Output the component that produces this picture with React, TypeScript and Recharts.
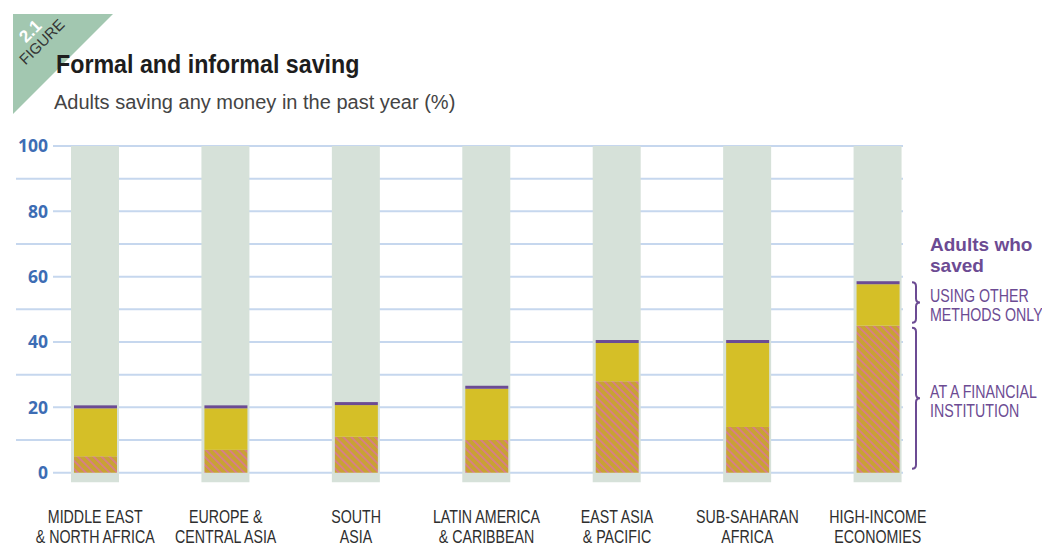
import React from "react";
import { BarChart, Bar, XAxis, YAxis, CartesianGrid } from "recharts";

const regions = [
  "MIDDLE EAST\n& NORTH AFRICA",
  "EUROPE &\nCENTRAL ASIA",
  "SOUTH\nASIA",
  "LATIN AMERICA\n& CARIBBEAN",
  "EAST ASIA\n& PACIFIC",
  "SUB-SAHARAN\nAFRICA",
  "HIGH-INCOME\nECONOMIES",
];
// % of adults saving at a financial institution
const formal = [5, 7, 11, 10, 28, 14, 45];
// % of adults saving any money (formal or other methods)
const anySaving = [20, 20, 21, 26, 40, 40, 58];
const yTicks = [0, 10, 20, 30, 40, 50, 60, 70, 80, 90, 100];

const W = 1042;
const H = 543;
const TOP = 146;
const BOTTOM = 482.5;
const DOMAIN: [number, number] = [-3, 100];

const SANS = "'Liberation Sans', Arial, sans-serif";
const SQUEEZE = 0.79; // no condensed face installed, so squeeze Liberation Sans
const PURPLE = "#6c4b93";
const YELLOW = "#d5bf27";
const GRAY = "#d6e1d9";
const GRID = "#c6d7ee";

const data = regions.map((r, i) => ({
  region: r,
  formal: formal[i],
  other: anySaving[i] - formal[i],
  bg: [DOMAIN[0], 100],
}));

// same linear mapping the chart uses, for the grid and the braces
const yOf = (v: number) => TOP + ((DOMAIN[1] - v) / (DOMAIN[1] - DOMAIN[0])) * (BOTTOM - TOP);
const vOf = (y: number) => DOMAIN[1] - ((y - TOP) / (BOTTOM - TOP)) * (DOMAIN[1] - DOMAIN[0]);

function Narrow({ x, y, children, anchor = "start", size = 18, fill = "#333", weight = 400, sx = SQUEEZE }: any) {
  return (
    <text
      transform={`translate(${x} ${y}) scale(${sx} 1)`}
      textAnchor={anchor}
      fill={fill}
      fontFamily={SANS}
      fontSize={size}
      fontWeight={weight}
    >
      {children}
    </text>
  );
}

function OtherShape(props: any) {
  const { x, y, width, height } = props;
  return (
    <g>
      <rect x={x} y={y + 1} width={width} height={Math.max(height - 1, 0)} fill={YELLOW} />
      <rect x={x} y={y - 2} width={width} height={3} fill={PURPLE} />
    </g>
  );
}

function RegionTick(props: any) {
  const { x, payload } = props;
  const lines = String(payload.value).split("\n");
  return (
    <g>
      {lines.map((l, i) => (
        <Narrow key={i} x={x} y={523 + i * 19.5} anchor="middle" fill="#2e2e2e">
          {l}
        </Narrow>
      ))}
    </g>
  );
}

function GridLine(p: any) {
  const v = Math.round(vOf(p.y1));
  if (v < 0 || v > 100) return <g key={p.key} />;
  return (
    <line key={p.key} x1={v % 20 === 0 ? 53 : 16} x2={903} y1={p.y1} y2={p.y2} stroke={GRID} strokeWidth={2} />
  );
}

function brace(x0: number, y1: number, y2: number) {
  const ym = (y1 + y2) / 2;
  const xm = x0 + 4;
  return `M ${x0} ${y1} Q ${xm} ${y1} ${xm} ${y1 + 4} L ${xm} ${ym - 4} Q ${xm} ${ym} ${x0 + 8} ${ym} Q ${xm} ${ym} ${xm} ${ym + 4} L ${xm} ${y2 - 4} Q ${xm} ${y2} ${x0} ${y2}`;
}

export default function App() {
  const hi = data.length - 1;
  return (
    <div style={{ position: "absolute", left: 0, top: 0, width: W, height: H, background: "#fff" }}>
      <BarChart width={W} height={H} data={data} margin={{ top: TOP, right: 99, left: 0, bottom: 0 }}>
        <defs>
          <pattern id="hatch" patternUnits="userSpaceOnUse" width={5.6} height={5.6} patternTransform="rotate(-45)">
            <rect width={5.6} height={5.6} fill="#c8a234" />
            <line x1={0.9} y1={0} x2={0.9} y2={5.6} stroke="#d97a90" strokeWidth={1.7} />
          </pattern>
        </defs>
        <CartesianGrid vertical={false} horizontal={GridLine} />
        <XAxis xAxisId="bg" dataKey="region" hide />
        <XAxis
          xAxisId="main"
          dataKey="region"
          axisLine={false}
          tickLine={false}
          tickSize={0}
          tickMargin={0}
          height={60.5}
          interval={0}
          tick={<RegionTick />}
        />
        <YAxis
          width={30}
          domain={DOMAIN}
          ticks={yTicks}
          allowDataOverflow
          axisLine={false}
          tickLine={false}
          tickSize={0}
          tickMargin={0}
          tickFormatter={(v: number) => (v % 20 === 0 ? String(v) : "")}
          tick={{ fill: "#3d6db4", fontSize: 17.5, fontWeight: 700, fontFamily: "'Open Sans', sans-serif", dx: 18 }}
        />
        <Bar xAxisId="bg" dataKey="bg" barSize={48} fill={GRAY} isAnimationActive={false} />
        <Bar xAxisId="main" dataKey="formal" stackId="s" barSize={43} fill="url(#hatch)" isAnimationActive={false} />
        <Bar xAxisId="main" dataKey="other" stackId="s" barSize={43} shape={<OtherShape />} isAnimationActive={false} />
      </BarChart>

      <svg width={W} height={H} style={{ position: "absolute", left: 0, top: 0, pointerEvents: "none" }}>
        <polygon points="13,14 113,14 13,114" fill="#a2c7b0" />
        <text x={30} y={37} transform="rotate(-45 30 31)" textAnchor="middle" fill="#fff" fontFamily={SANS} fontWeight={700} fontSize={17}>
          2.1
        </text>
        <text x={42} y={47} transform="rotate(-45 42 42)" textAnchor="middle" fill="#333" fontFamily={SANS} fontSize={15}>
          FIGURE
        </text>
        <Narrow x={56} y={73} fill="#1d1d1d" size={25} weight={700} sx={0.93}>
          Formal and informal saving
        </Narrow>
        <text x={54} y={109} fill="#444" fontFamily={SANS} fontSize={20}>
          Adults saving any money in the past year (%)
        </text>

        <text x={930} y={251} fill={PURPLE} fontFamily={SANS} fontWeight={700} fontSize={19}>
          Adults who
        </text>
        <text x={930} y={272} fill={PURPLE} fontFamily={SANS} fontWeight={700} fontSize={19}>
          saved
        </text>
        <Narrow x={930} y={302} fill={PURPLE}>USING OTHER</Narrow>
        <Narrow x={930} y={321} fill={PURPLE}>METHODS ONLY</Narrow>
        <Narrow x={930} y={398} fill={PURPLE}>AT A FINANCIAL</Narrow>
        <Narrow x={930} y={417} fill={PURPLE}>INSTITUTION</Narrow>
        <path d={brace(912, yOf(anySaving[hi]) - 1, yOf(formal[hi]) - 3)} fill="none" stroke={PURPLE} strokeWidth={2} />
        <path d={brace(912, yOf(formal[hi]) + 2, yOf(0) - 4)} fill="none" stroke={PURPLE} strokeWidth={2} />
      </svg>
    </div>
  );
}
